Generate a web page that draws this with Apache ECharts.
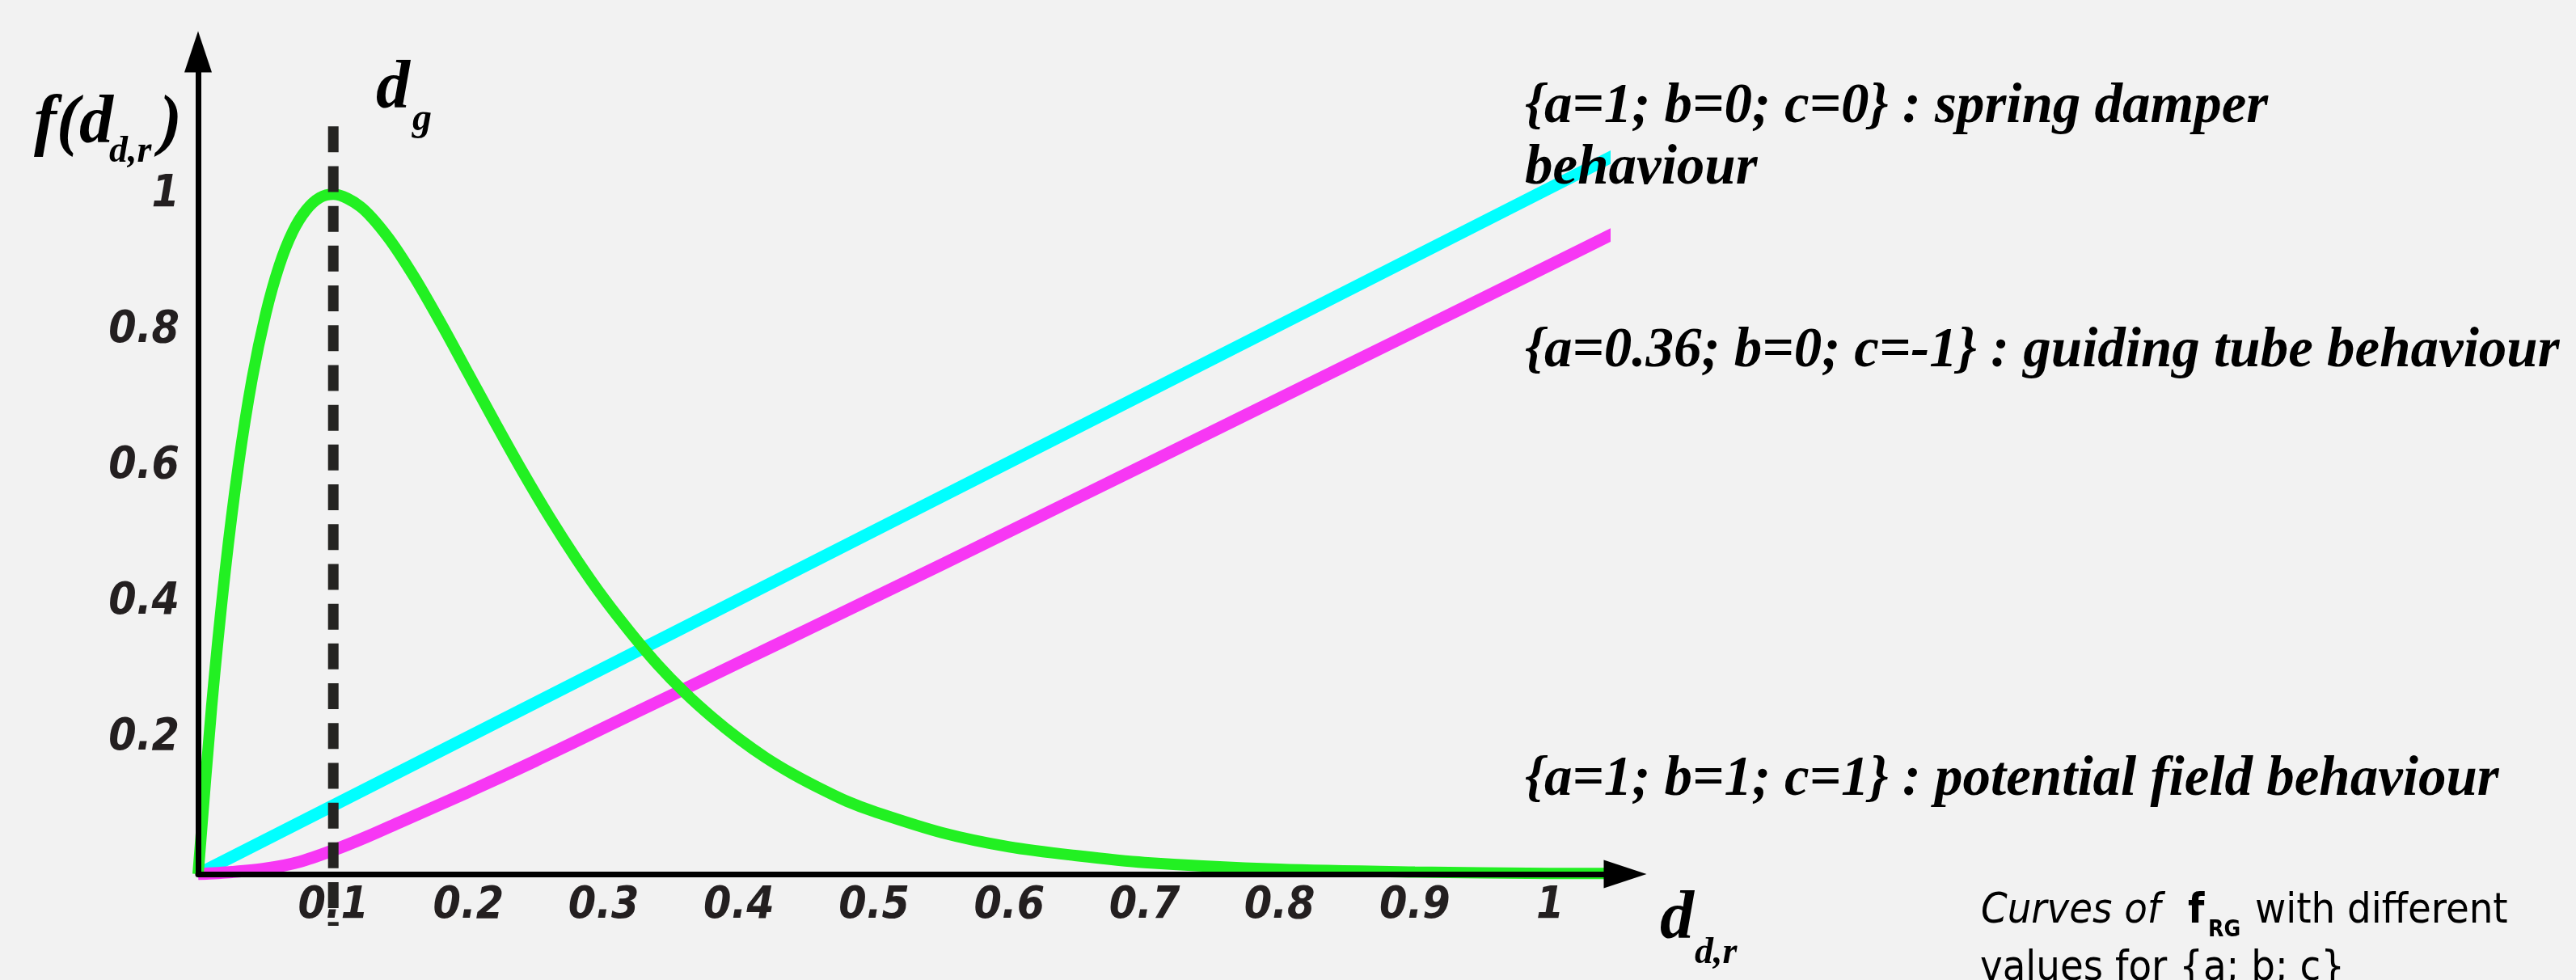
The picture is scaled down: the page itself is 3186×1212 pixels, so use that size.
<!DOCTYPE html>
<html>
<head>
<meta charset="utf-8">
<script src="https://cdn.jsdelivr.net/npm/echarts@6/dist/echarts.min.js"></script>
<style>
  html, body { margin: 0; padding: 0; background: #f2f2f2; }
  #chart { width: 3186px; height: 1212px; }
</style>
</head>
<body>
<div id="chart"></div>
<script>
// tick labels
const xTicks = [0.1, 0.2, 0.3, 0.4, 0.5, 0.6, 0.7, 0.8, 0.9, 1];
const yTicks = [0.2, 0.4, 0.6, 0.8, 1];

// {a=1; b=1; c=1} : potential field (green)
const potentialX = [0, 0.01, 0.02, 0.03, 0.04, 0.05, 0.06, 0.07, 0.08, 0.09, 0.1, 0.12, 0.14, 0.16, 0.18, 0.2, 0.22, 0.24, 0.26, 0.28, 0.3, 0.32, 0.34, 0.36, 0.38, 0.4, 0.42, 0.44, 0.46, 0.48, 0.5, 0.55, 0.6, 0.65, 0.7, 0.8, 0.9, 1.0, 1.06];
const potentialY = [0, 0.246, 0.445, 0.604, 0.729, 0.824, 0.895, 0.945, 0.977, 0.995, 1.0, 0.982, 0.938, 0.878, 0.809, 0.736, 0.663, 0.592, 0.525, 0.463, 0.406, 0.355, 0.308, 0.267, 0.231, 0.199, 0.171, 0.147, 0.126, 0.107, 0.092, 0.061, 0.04, 0.027, 0.017, 0.007, 0.003, 0.001, 0.001];

// {a=1; b=0; c=0} : spring damper (cyan)
const springX = [0, 0.5, 1.06];
const springY = [0, 0.505, 1.07];

// {a=0.36; b=0; c=-1} : guiding tube (magenta)
const guidingX = [0, 0.025, 0.05, 0.075, 0.1, 0.125, 0.15, 0.2, 0.25, 0.3, 0.35, 0.4, 0.45, 0.5, 0.6, 0.7, 0.8, 0.9, 1.0, 1.06];
const guidingY = [0, 0.003, 0.008, 0.018, 0.035, 0.055, 0.077, 0.121, 0.167, 0.215, 0.263, 0.311, 0.359, 0.407, 0.504, 0.602, 0.7, 0.798, 0.896, 0.955];

// d_g marker
const dgX = [0.1, 0.1];
const dgY = [1.1, -0.076];

const zip = (xs, ys) => xs.map((x, i) => [x, ys[i]]);

const serif = "'Liberation Serif', 'Times New Roman', serif";
const sans = "'DejaVu Sans Condensed', 'DejaVu Sans', sans-serif";

// text placed by its baseline
function txt(text, x, base, size, family, fontStyle, fontWeight, color) {
  return {
    type: 'text', x: x, y: base - 0.34 * size, z: 100,
    style: {
      text: text, fontSize: size, fontFamily: family,
      fontStyle: fontStyle, fontWeight: fontWeight,
      fill: color || '#000', verticalAlign: 'middle', lineHeight: size
    }
  };
}

const myChart = echarts.init(document.getElementById('chart'));
const option = {
  backgroundColor: '#f2f2f2',
  animation: false,
  grid: { left: 245, right: 1202, top: 89, bottom: 131 },
  xAxis: {
    type: 'value', min: 0, max: 1.04, z: 5,
    axisLine: {
      lineStyle: { color: '#000', width: 7 },
      symbol: ['none', 'triangle'], symbolSize: [35, 53], symbolOffset: [0, 26]
    },
    axisTick: { show: false },
    splitLine: { show: false },
    axisLabel: {
      customValues: xTicks, margin: 12,
      fontSize: 55, fontStyle: 'italic', fontWeight: 'bold',
      fontFamily: sans, color: '#231f20'
    }
  },
  yAxis: {
    type: 'value', min: 0, max: 1.18, z: 5,
    axisLine: {
      lineStyle: { color: '#000', width: 7 },
      symbol: ['none', 'triangle'], symbolSize: [34, 51], symbolOffset: [0, 25]
    },
    axisTick: { show: false },
    splitLine: { show: false },
    axisLabel: {
      customValues: yTicks, margin: 23,
      fontSize: 55, fontStyle: 'italic', fontWeight: 'bold',
      fontFamily: sans, color: '#231f20'
    }
  },
  series: [
    {
      type: 'line', data: zip(springX, springY), showSymbol: false,
      lineStyle: { color: '#00ffff', width: 15 }
    },
    {
      type: 'line', data: zip(guidingX, guidingY), showSymbol: false, smooth: 0.3,
      lineStyle: { color: '#f737f4', width: 15 }
    },
    {
      type: 'line', data: zip(potentialX, potentialY), showSymbol: false, smooth: 0.3,
      lineStyle: { color: '#22f022', width: 14 }
    },
    {
      type: 'line', data: zip(dgX, dgY), showSymbol: false, clip: false,
      lineStyle: { color: '#252422', width: 13, type: [32, 17.2] }
    }
  ],
  graphic: [
    // y axis name f(d_d,r)
    txt('f(d', 42, 183, 84, serif, 'italic', 'bold'),
    txt('d,r', 135, 204, 46, serif, 'italic', 'bold'),
    txt(')', 197, 183, 84, serif, 'italic', 'bold'),
    // d_g
    txt('d', 465, 140, 84, serif, 'italic', 'bold'),
    txt('g', 510, 165, 48, serif, 'italic', 'bold'),
    // x axis name d_d,r
    txt('d', 2053, 1167, 84, serif, 'italic', 'bold'),
    txt('d,r', 2096, 1195, 46, serif, 'italic', 'bold'),
    // curve notes
    txt('{a=1; b=0; c=0} : spring damper', 1886, 157, 69, serif, 'italic', 'bold'),
    txt('behaviour', 1886, 233, 69, serif, 'italic', 'bold'),
    txt('{a=0.36; b=0; c=-1} : guiding tube behaviour', 1886, 459, 69, serif, 'italic', 'bold'),
    txt('{a=1; b=1; c=1} : potential field behaviour', 1886, 989, 69, serif, 'italic', 'bold'),
    // caption
    txt('Curves of', 2450, 1145, 52, sans, 'italic', 'normal'),
    txt('f', 2706, 1145, 52, sans, 'normal', 'bold'),
    txt('RG', 2731, 1160, 28, sans, 'normal', 'bold'),
    txt('with different', 2789, 1145, 52, sans, 'normal', 'normal'),
    txt('values for {a; b; c}', 2449, 1216, 52, sans, 'normal', 'normal')
  ]
};

option && myChart.setOption(option);
</script>
</body>
</html>
